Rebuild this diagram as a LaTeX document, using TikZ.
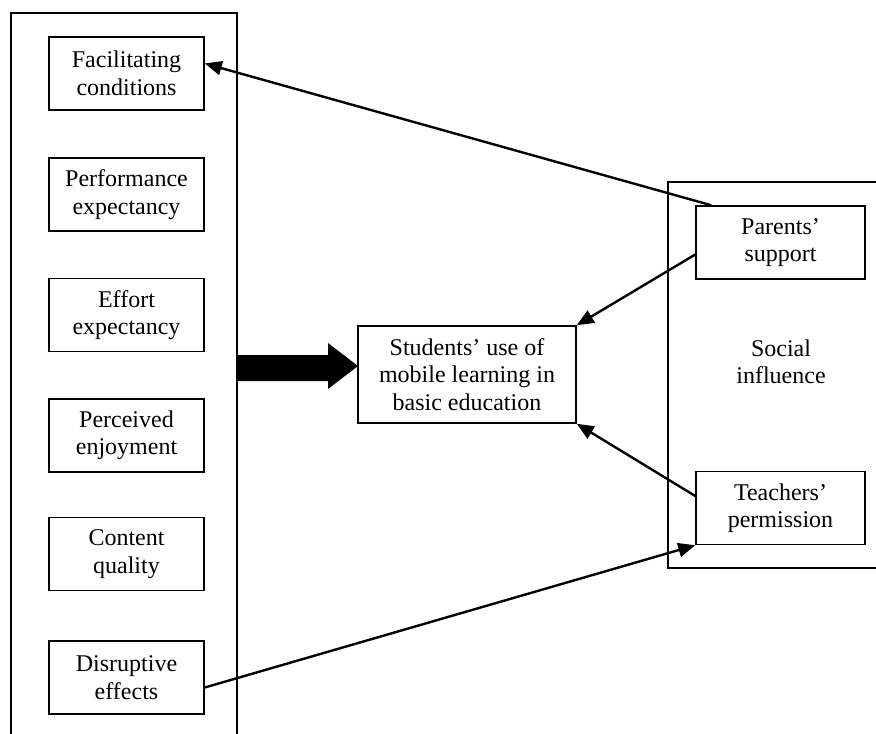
\documentclass[tikz,border=0pt]{standalone}
\usepackage{fontspec}
\setmainfont{Liberation Serif}
\usetikzlibrary{arrows.meta}
\begin{document}
\begin{tikzpicture}[x=1pt,y=-1pt,
  box/.style={draw, line width=1.5pt, align=center, inner sep=0pt,
    font=\fontsize{24}{27.5}\selectfont},
  lbox/.style={box, minimum width=155pt, minimum height=73pt},
  rbox/.style={box, minimum width=169pt, minimum height=73pt},
  frame/.style={line width=1.5pt},
  link/.style={line width=2.4pt, -{Triangle[length=17pt,width=14pt]}},
  label/.style={align=center, font=\fontsize{24}{27.5}\selectfont}]
\useasboundingbox (0,0) rectangle (876,734);
% containers
\draw[frame] (11,734) -- (11,13) -- (237,13) -- (237,734);
\draw[frame] (876,182) -- (668,182) -- (668,568) -- (876,568);
% left factors
\node[lbox] (fc) at (126.5,73.5) {Facilitating\\conditions};
\node[lbox] (pe) at (126.5,194.5) {Performance\\expectancy};
\node[lbox] (ee) at (126.5,315) {Effort\\expectancy};
\node[lbox] (pj) at (126.5,435.5) {Perceived\\enjoyment};
\node[lbox] (cq) at (126.5,554) {Content\\quality};
\node[lbox] (de) at (126.5,677.5) {Disruptive\\effects};
% centre
\node[box, minimum width=218pt, minimum height=97pt] (ctr) at (467,374.5)
  {Students’ use of\\mobile learning in\\basic education};
% right
\node[rbox] (ps) at (780.5,242.5) {Parents’\\support};
\node[rbox] (tp) at (780.5,508) {Teachers’\\permission};
\node[label] (si) at (781,362) {Social\\influence};
% thick arrow
\fill (238,355) -- (328,355) -- (328,343) -- (358,366) -- (328,389)
  -- (328,381) -- (238,381) -- cycle;
% connectors
\draw[link] ([xshift=16pt]ps.north west) -- ([yshift=10pt]fc.east);
\draw[link] ([yshift=-12pt]ps.west) -- (ctr.north east);
\draw[link] ([yshift=12pt]tp.west) -- (ctr.south east);
\draw[link] ([yshift=-10pt]de.east) -- (tp.south west);
\end{tikzpicture}
\end{document}
